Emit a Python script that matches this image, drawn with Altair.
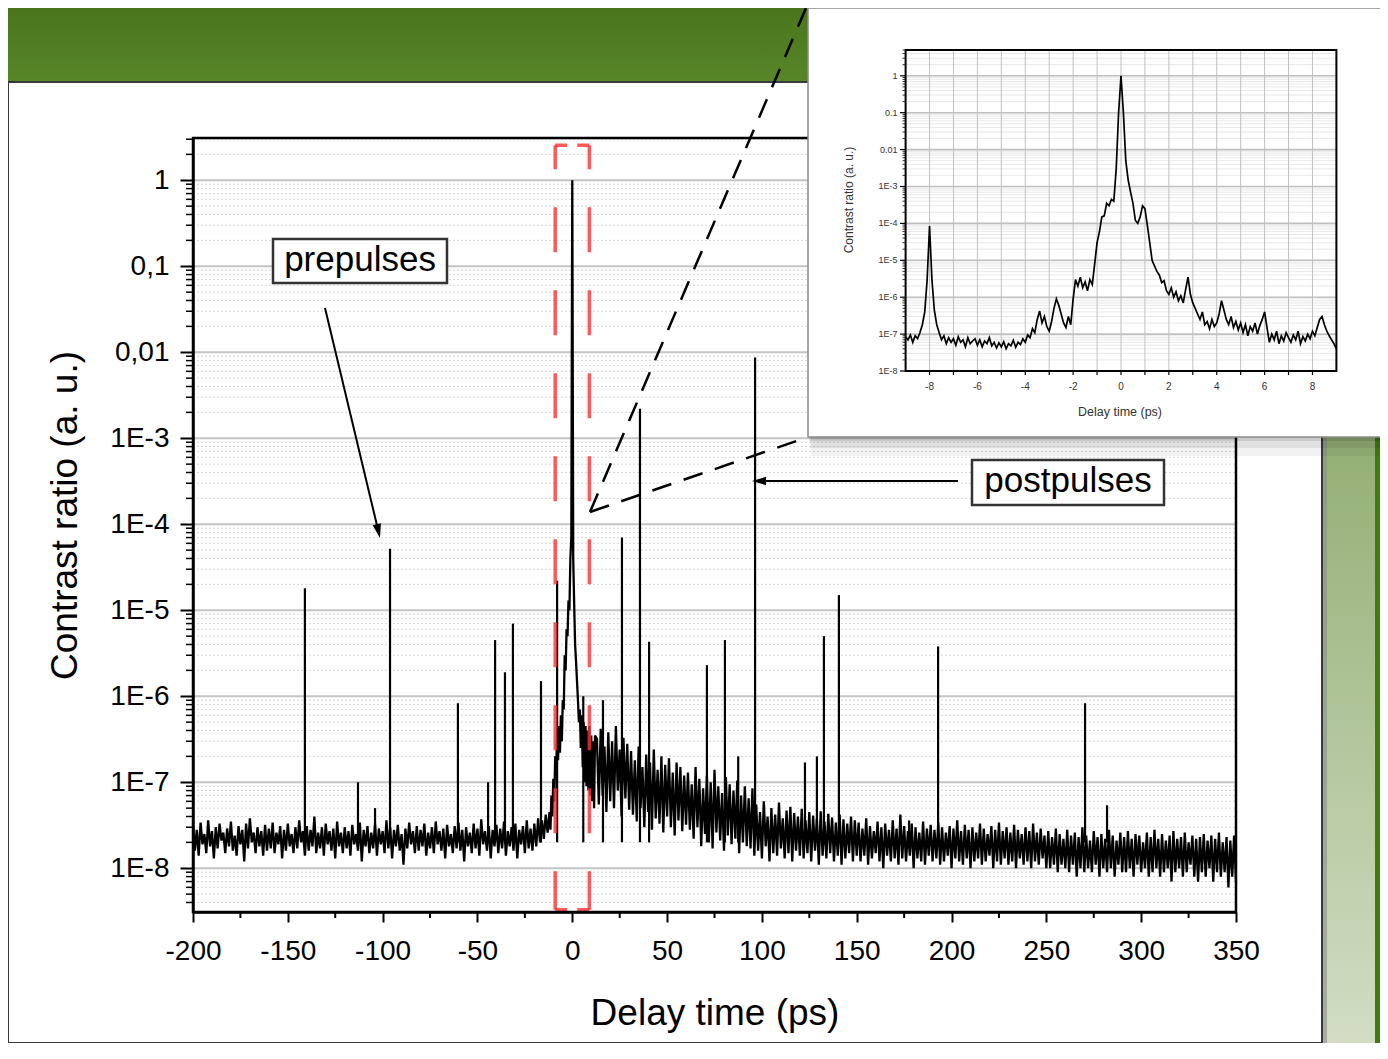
import numpy as np
import pandas as pd
import altair as alt

FONT = "Liberation Sans"

# ---------------- main trace: contrast ratio, values given in units of 1e-9 ----------------
left_x = list(range(-200, -12))
left_noise_e9 = [
    31, 16, 28, 14, 34, 19, 25, 15, 36, 18, 27, 13, 30, 17, 33, 21, 26, 15, 29, 18,
    35, 16, 24, 14, 31, 19, 28, 12, 33, 17, 38, 20, 26, 15, 30, 18, 27, 14, 32, 16,
    29, 17, 34, 15, 26, 19, 31, 13, 28, 16, 33, 18, 25, 15, 30, 17, 36, 20, 27, 14,
    31, 16, 28, 18, 40, 15, 26, 17, 30, 14, 33, 19, 27, 16, 29, 13, 35, 18, 26, 15,
    30, 17, 27, 14, 32, 19, 25, 16, 34, 12, 28, 18, 31, 15, 26, 17, 33, 14, 29, 19,
    27, 15, 36, 17, 30, 13, 28, 18, 32, 16, 25, 11, 29, 17, 34, 19, 27, 15, 31, 16,
    28, 18, 33, 14, 26, 17, 30, 15, 35, 19, 27, 16, 29, 13, 32, 18, 25, 15, 31, 17,
    34, 16, 28, 12, 30, 18, 26, 15, 33, 17, 29, 14, 37, 19, 27, 16, 31, 13, 28, 18,
    32, 15, 29, 17, 35, 14, 27, 18, 30, 16, 33, 13, 28, 19, 31, 15, 36, 17, 29, 16,
    33, 18, 38, 20, 36, 22, 42, 26,
]
core_x = [float(v) for v in np.arange(-12, 12.01, 0.5)]
core_e9 = [
    45, 28, 70, 40, 110, 60, 200, 120, 400, 180,
    450, 220, 600, 300, 900, 700, 3000, 2000, 6000, 5000,
    13000, 10000, 40000, 70000, 1e9, 40000, 12000, 4000, 2500, 1500,
    900, 500, 700, 250, 600, 150, 500, 100, 450, 90,
    400, 80, 450, 70, 350, 60, 300, 50, 350,
]
right_x = list(range(13, 351))
right_noise_e9 = [
    320, 55, 420, 70, 260, 45, 380, 60, 300, 50, 450, 80, 240, 40, 330, 65, 280, 48,
    230, 42, 180, 35, 260, 50, 150, 30, 210, 45, 170, 28, 240, 38, 140, 33, 200, 26,
    160, 40, 190, 30, 130, 24, 170, 36, 150, 27, 120, 32,
    130, 28, 95, 22, 150, 30, 110, 18, 85, 25, 120, 20, 100, 17, 140, 26, 90, 21,
    75, 16, 115, 24, 95, 19, 80, 22, 105, 15, 70, 20, 90, 18, 65, 17, 85, 14,
    55, 16, 45, 13, 60, 18, 40, 12, 50, 15, 42, 14, 58, 17, 38, 13, 47, 15, 52, 12,
    44, 16, 40, 14, 49, 13, 36, 15, 45, 12, 41, 16, 38, 11, 46, 14, 35, 13, 43, 15,
    39, 12, 34, 14, 42, 11, 37, 13, 33, 15, 40, 12, 36, 14,
    34, 12, 29, 14, 38, 11, 31, 13, 27, 15, 35, 12, 30, 10, 33, 14, 28, 12, 36, 13,
    29, 11, 42, 13, 31, 12, 27, 14, 33, 10, 30, 13, 26, 12, 35, 11, 29, 14, 32, 12,
    28, 13, 34, 11, 30, 12, 26, 14, 31, 10, 29, 13, 36, 12, 27, 11, 32, 13, 28, 10,
    30, 12, 26, 13, 33, 11, 29, 12, 25, 14, 31, 10, 28, 12, 34, 11, 27, 13, 30, 11,
    26, 12, 32, 10, 28, 13, 25, 11, 30, 12, 27, 10, 33, 12, 26, 11, 29, 13, 24, 10,
    27, 10, 23, 11, 29, 9, 25, 11, 22, 10, 28, 9, 24, 11, 26, 8, 23, 10, 30, 9,
    24, 10, 21, 9, 27, 11, 23, 8, 25, 10, 22, 9, 28, 10, 24, 8, 21, 11, 26, 9,
    23, 9, 27, 10, 22, 8, 25, 11, 24, 9, 20, 10, 26, 8, 23, 9, 28, 10, 22, 8,
    25, 9, 21, 10, 24, 7, 27, 9, 22, 10, 23, 8, 26, 9, 20, 11, 24, 8, 22, 7,
    23, 9, 25, 8, 21, 10, 24, 7, 22, 9, 26, 8, 20, 9, 23, 6, 21, 8, 24, 7,
]

# pre- and post-pulses (delay in ps, peak contrast)
spike_x = [-141, -113, -104, -96.1, -60.3, -44.4, -40.7, -35.5, -31.3, -16.5, -8,
           5.8, 16.2, 26.2, 35.7, 40.5, 71.0, 80.5, 87.5, 96.4, 122.7, 129.0, 132.7,
           140.6, 177.6, 192.9, 270.4, 282.0]
spike_peak = [1.8e-5, 1.0e-7, 5e-8, 5.2e-5, 8.3e-7, 1.0e-7, 4.5e-6, 1.9e-6, 7e-6, 1.5e-6, 2.2e-5,
              1e-6, 9e-7, 7e-5, 2.2e-3, 4.3e-6, 2.3e-6, 4.5e-6, 2e-7, 8.7e-3, 1.7e-7, 2e-7, 5e-6,
              1.5e-5, 3.6e-8, 3.8e-6, 8.3e-7, 5.4e-8]
spike_base = 2e-8

x_tick_values = [-200, -150, -100, -50, 0, 50, 100, 150, 200, 250, 300, 350]
x_minor_values = [-175, -125, -75, -25, 25, 75, 125, 175, 225, 275, 325]
y_tick_values = [1e-8, 1e-7, 1e-6, 1e-5, 1e-4, 1e-3, 1e-2, 1e-1, 1]
y_tick_labels = ["1E-8", "1E-7", "1E-6", "1E-5", "1E-4", "1E-3", "0,01", "0,1", "1"]

# ---------------- inset trace (-9..9 ps, step 0.1 ps), units of 1e-9 ----------------
inset_x = [round(float(v), 1) for v in np.arange(-9, 9.001, 0.1)]
inset_e9 = [
    85, 70, 95, 60, 90, 75, 110, 180, 400, 3000,
    85000, 3000, 450, 180, 110, 70, 90, 55, 80, 60,
    75, 50, 85, 60, 70, 45, 80, 55, 65, 75,
    50, 70, 45, 65, 55, 80, 48, 60, 42, 58,
    45, 62, 40, 55, 48, 68, 44, 60, 52, 75,
    60, 95, 80, 140, 110, 250, 420, 200, 300, 160,
    120, 220, 500, 900, 600, 350, 200, 150, 300, 180,
    900, 3000, 2000, 3500, 1800, 2600, 1500, 3000, 2200, 8000,
    30000, 60000, 150000, 160000, 350000, 300000, 450000, 400000, 3000000, 100000000,
    1000000000,
    100000000, 5000000, 1500000, 700000, 350000, 120000, 100000, 150000, 300000, 250000,
    90000, 30000, 10000, 7000, 5000, 4000, 2500, 2800, 1500, 1200,
    1800, 1000, 1400, 800, 1100, 700, 1600, 3500, 1200, 700,
    500, 350, 250, 400, 180, 220, 140, 250, 160, 200,
    350, 800, 450, 250, 180, 300, 150, 220, 130, 200,
    110, 180, 90, 160, 120, 200, 100, 170, 250, 400,
    150, 60, 100, 70, 120, 55, 90, 65, 110, 80,
    60, 95, 70, 120, 55, 85, 65, 100, 75, 120,
    90, 150, 250, 300, 180, 120, 90, 70, 55, 40,
]
inset_x_ticks = list(range(-8, 9))
inset_x_label_values = [-8, -6, -4, -2, 0, 2, 4, 6, 8]
inset_x_labels = ["-8", "-6", "-4", "-2", "0", "2", "4", "6", "8"]
inset_y_labels = ["1E-8", "1E-7", "1E-6", "1E-5", "1E-4", "1E-3", "0.01", "0.1", "1"]

assert len(left_x) == len(left_noise_e9)
assert len(core_x) == len(core_e9)
assert len(right_x) == len(right_noise_e9)
assert len(inset_x) == len(inset_e9)
assert len(spike_x) == len(spike_peak)

# ---------------- frames ----------------
W, H = 1043, 774
Y_LO, Y_HI = 3.1e-9, 3.1
trace = pd.DataFrame({
    "x": left_x + core_x + right_x,
    "y": [v * 1e-9 for v in left_noise_e9 + core_e9 + right_noise_e9],
})
spikes = pd.DataFrame({"x": spike_x, "peak": spike_peak, "base": [spike_base] * len(spike_x)})
major_y = pd.DataFrame({"y": y_tick_values})
minor_y = pd.DataFrame({"y": [m * 10.0 ** k for k in range(-9, 1) for m in range(2, 10)
                              if Y_LO <= m * 10.0 ** k <= Y_HI]})
minor_x = pd.DataFrame({"x": x_minor_values})
frame = pd.DataFrame({"x": [-200], "x1": [350], "y": [Y_LO], "y1": [Y_HI]})
red_v = pd.DataFrame({"x": [-9, 9], "y": [2.55, 2.55], "y1": [3.3e-9, 3.3e-9]})
red_h = pd.DataFrame({"x": [-9, -9], "x1": [9, 9], "y": [2.55, 3.3e-9]})
one = pd.DataFrame({"k": [0]})

XS = alt.Scale(domain=[-200, 350], nice=False, zero=False)
YS = alt.Scale(type="log", domain=[Y_LO, Y_HI], nice=False)

label_expr = " : ".join(f"datum.value < {v * 1.5:g} ? '{lab}'"
                        for v, lab in zip(y_tick_values, y_tick_labels)) + " : ''"

X_AX = alt.Axis(values=x_tick_values, labelExpr="'' + datum.value", tickSize=10, tickWidth=2,
                tickColor="black", domainColor="black", domainWidth=2.5, labelFont=FONT,
                labelFontSize=28, labelColor="black", labelPadding=15, labelFlush=False,
                labelOverlap=False, grid=False, title="Delay time (ps)", titleFont=FONT,
                titleFontSize=37, titleFontWeight="normal", titleColor="black",
                titleY=112, titleBaseline="alphabetic", zindex=1)
Y_AX = alt.Axis(values=y_tick_values, labelExpr=label_expr, tickSize=13, tickWidth=2,
                tickColor="black", domainColor="black", domainWidth=2.5, labelFont=FONT,
                labelFontSize=28, labelColor="black", labelPadding=11, labelFlush=False,
                labelOverlap=False, grid=False, title="Contrast ratio (a. u.)", titleFont=FONT,
                titleFontSize=37, titleFontWeight="normal", titleColor="black",
                titleX=-117, titleY=377, titleAngle=270, titleAlign="center",
                titleBaseline="alphabetic", zindex=1)


def MX(f="x"):
    return alt.X(f"{f}:Q", scale=XS, axis=X_AX)


def MY(f="y"):
    return alt.Y(f"{f}:Q", scale=YS, axis=Y_AX)


def box(x0, x1, y0, y1, **mark):
    return alt.Chart(one).mark_rect(**mark).encode(
        x=alt.value(x0), x2=alt.value(x1), y=alt.value(y0), y2=alt.value(y1))


def seg(x0, y0, x1, y1, **mark):
    return alt.Chart(one).mark_rule(**mark).encode(
        x=alt.value(x0), x2=alt.value(x1), y=alt.value(y0), y2=alt.value(y1))


# ---------------- slide background ----------------
decor = alt.layer(
    box(-185, 1187, -130, -56, color=alt.Gradient(
        gradient="linear", x1=0, x2=0, y1=0, y2=1,
        stops=[alt.GradientStop(color="#4a751d", offset=0),
               alt.GradientStop(color="#578628", offset=1)])),
    box(1129, 1187, -56, 905, color=alt.Gradient(
        gradient="linear", x1=0, x2=0, y1=0, y2=1,
        stops=[alt.GradientStop(color="#6f9446", offset=0),
               alt.GradientStop(color="#d2ddc4", offset=1)])),
    box(1182, 1187, -56, 905, color="#3f7d0e"),
    box(1129, 1134, -56, 905, color="#8c8c8c", opacity=0.6),
    box(-185, 1129, -56, 905, fill="white", stroke="#3a3a3a", strokeWidth=2),
)

# ---------------- main chart ----------------
main = alt.layer(
    alt.Chart(minor_y).mark_rule(color="#d6d6d6", strokeWidth=1, strokeDash=[2, 2]).encode(
        y=MY(), x=alt.value(0), x2=alt.value(W)),
    alt.Chart(major_y).mark_rule(color="#c4c4c4", strokeWidth=2).encode(
        y=MY(), x=alt.value(0), x2=alt.value(W)),
    alt.Chart(minor_y).mark_rule(color="black", strokeWidth=1.5).encode(
        y=MY(), x=alt.value(-7), x2=alt.value(0)),
    alt.Chart(minor_x).mark_rule(color="black", strokeWidth=2).encode(
        x=MX(), y=alt.value(H), y2=alt.value(H + 6)),
    alt.Chart(trace).mark_line(color="black", strokeWidth=2.3, strokeJoin="bevel").encode(
        x=MX(), y=MY()),
    alt.Chart(spikes).mark_rule(color="black", strokeWidth=2.2).encode(
        x=MX(), y=MY("base"), y2=alt.Y2("peak:Q")),
    alt.Chart(red_v).mark_rule(color="#ff3030", opacity=0.8, strokeWidth=3.5,
                               strokeDash=[45, 38], strokeDashOffset=21).encode(
        x=MX(), y=MY(), y2=alt.Y2("y1:Q")),
    alt.Chart(red_h).mark_rule(color="#ff3030", opacity=0.8, strokeWidth=3.5,
                               strokeDash=[12, 10]).encode(
        x=MX(), x2=alt.X2("x1:Q"), y=MY()),
    alt.Chart(frame).mark_rect(filled=False, stroke="black", strokeWidth=2.5).encode(
        x=MX(), x2=alt.X2("x1:Q"), y=MY(), y2=alt.Y2("y1:Q")),
    # annotations
    box(80, 254, 101, 145, fill="white", stroke="#333333", strokeWidth=2.5),
    alt.Chart(one).mark_text(text="prepulses", font=FONT, fontSize=35, color="black",
                             align="center", baseline="middle").encode(
        x=alt.value(167), y=alt.value(122)),
    seg(132, 170, 184.7, 390.3, color="black", strokeWidth=2),
    alt.Chart(one).mark_point(shape="M0,-1L0.6,1L-0.6,1Z", filled=True, color="black",
                              size=200, angle=167, opacity=1).encode(
        x=alt.value(185.4), y=alt.value(393.2)),
    box(779, 971, 322, 367, fill="white", stroke="#333333", strokeWidth=2.5),
    alt.Chart(one).mark_text(text="postpulses", font=FONT, fontSize=35, color="black",
                             align="center", baseline="middle").encode(
        x=alt.value(875), y=alt.value(343)),
    seg(765, 343, 566, 343, color="black", strokeWidth=2),
    alt.Chart(one).mark_point(shape="M0,-1L0.6,1L-0.6,1Z", filled=True, color="black",
                              size=200, angle=270, opacity=1).encode(
        x=alt.value(566), y=alt.value(343)),
    seg(397, 374, 613, -130, color="black", strokeWidth=2.5, strokeDash=[20, 13]),
    seg(397, 374, 615, 299, color="black", strokeWidth=2.5, strokeDash=[20, 13]),
)

# ---------------- inset ----------------
XI = alt.Scale(domain=[-9, 9], range=[712.6, 1143.4], nice=False, zero=False)
YI = alt.Scale(type="log", domain=[1e-8, 5], range=[233, -88], nice=False)


def IX(f="x"):
    return alt.X(f"{f}:Q", scale=XI, axis=None)


def IY(f="y"):
    return alt.Y(f"{f}:Q", scale=YI, axis=None)


inset_trace = pd.DataFrame({"x": inset_x, "y": [v * 1e-9 for v in inset_e9]})
i_major = pd.DataFrame({"y": y_tick_values, "x0": -9, "x1": 9, "lab": inset_y_labels})
i_minor = pd.DataFrame({"y": [m * 10.0 ** k for k in range(-8, 1) for m in range(2, 10)
                              if m * 10.0 ** k <= 5], "x0": -9, "x1": 9})
i_vgrid = pd.DataFrame({"x": inset_x_ticks, "y0": 1e-8, "y1": 5})
i_xlab = pd.DataFrame({"x": inset_x_label_values, "lab": inset_x_labels, "y": 1e-8})
i_frame = pd.DataFrame({"x": [-9], "x1": [9], "y": [1e-8], "y1": [5]})

inset = alt.layer(
    box(618, 1193, -126, 318, color="black", opacity=0.05),
    box(617, 1191, -128, 310, color="black", opacity=0.07),
    box(616, 1190, -129, 303, color="black", opacity=0.1),
    box(615, 1189, -130, 299, fill="white", stroke="#8a8a8a", strokeWidth=1.5),
    alt.Chart(i_minor).mark_rule(color="#e2e2e2", strokeWidth=0.8).encode(
        y=IY(), x=IX("x0"), x2=alt.X2("x1:Q")),
    alt.Chart(i_major).mark_rule(color="#c0c0c0", strokeWidth=1.6).encode(
        y=IY(), x=IX("x0"), x2=alt.X2("x1:Q")),
    alt.Chart(i_vgrid).mark_rule(color="#c0c0c0", strokeWidth=1).encode(
        x=IX(), y=IY("y0"), y2=alt.Y2("y1:Q")),
    alt.Chart(inset_trace).mark_line(color="black", strokeWidth=1.7).encode(x=IX(), y=IY()),
    alt.Chart(i_frame).mark_rect(filled=False, stroke="black", strokeWidth=2).encode(
        x=IX(), x2=alt.X2("x1:Q"), y=IY(), y2=alt.Y2("y1:Q")),
    alt.Chart(i_vgrid).mark_rule(color="black", strokeWidth=1.2).encode(
        x=IX(), y=IY("y0"), y2=alt.value(237)),
    alt.Chart(i_major).mark_rule(color="black", strokeWidth=1.2).encode(
        y=IY(), x=IX("x0"), x2=alt.value(707)),
    alt.Chart(i_minor).mark_rule(color="black", strokeWidth=0.8).encode(
        y=IY(), x=IX("x0"), x2=alt.value(709.5)),
    alt.Chart(i_xlab).mark_text(font=FONT, fontSize=10, color="#333333", baseline="middle",
                                dy=16).encode(x=IX(), y=IY(), text="lab:N"),
    alt.Chart(i_major).mark_text(font=FONT, fontSize=9, color="#333333", baseline="middle",
                                 align="right", dx=-8).encode(x=IX("x0"), y=IY(), text="lab:N"),
    alt.Chart(one).mark_text(text="Contrast ratio (a. u.)", font=FONT, fontSize=12,
                             color="#333333", angle=270, align="center",
                             baseline="middle").encode(x=alt.value(656), y=alt.value(62)),
    alt.Chart(one).mark_text(text="Delay time (ps)", font=FONT, fontSize=12.5,
                             color="#333333", align="center",
                             baseline="middle").encode(x=alt.value(927), y=alt.value(274)),
)

chart = alt.layer(decor, main, inset).resolve_scale(
    x="independent", y="independent"
).properties(
    width=W, height=H,
    autosize=alt.AutoSizeParams(type="none"),
    padding={"left": 185, "top": 130, "right": 144, "bottom": 131},
    background="white",
).configure_view(stroke=None, fill=None)

chart.save("out.html", embed_options={"renderer": "svg", "actions": False})
